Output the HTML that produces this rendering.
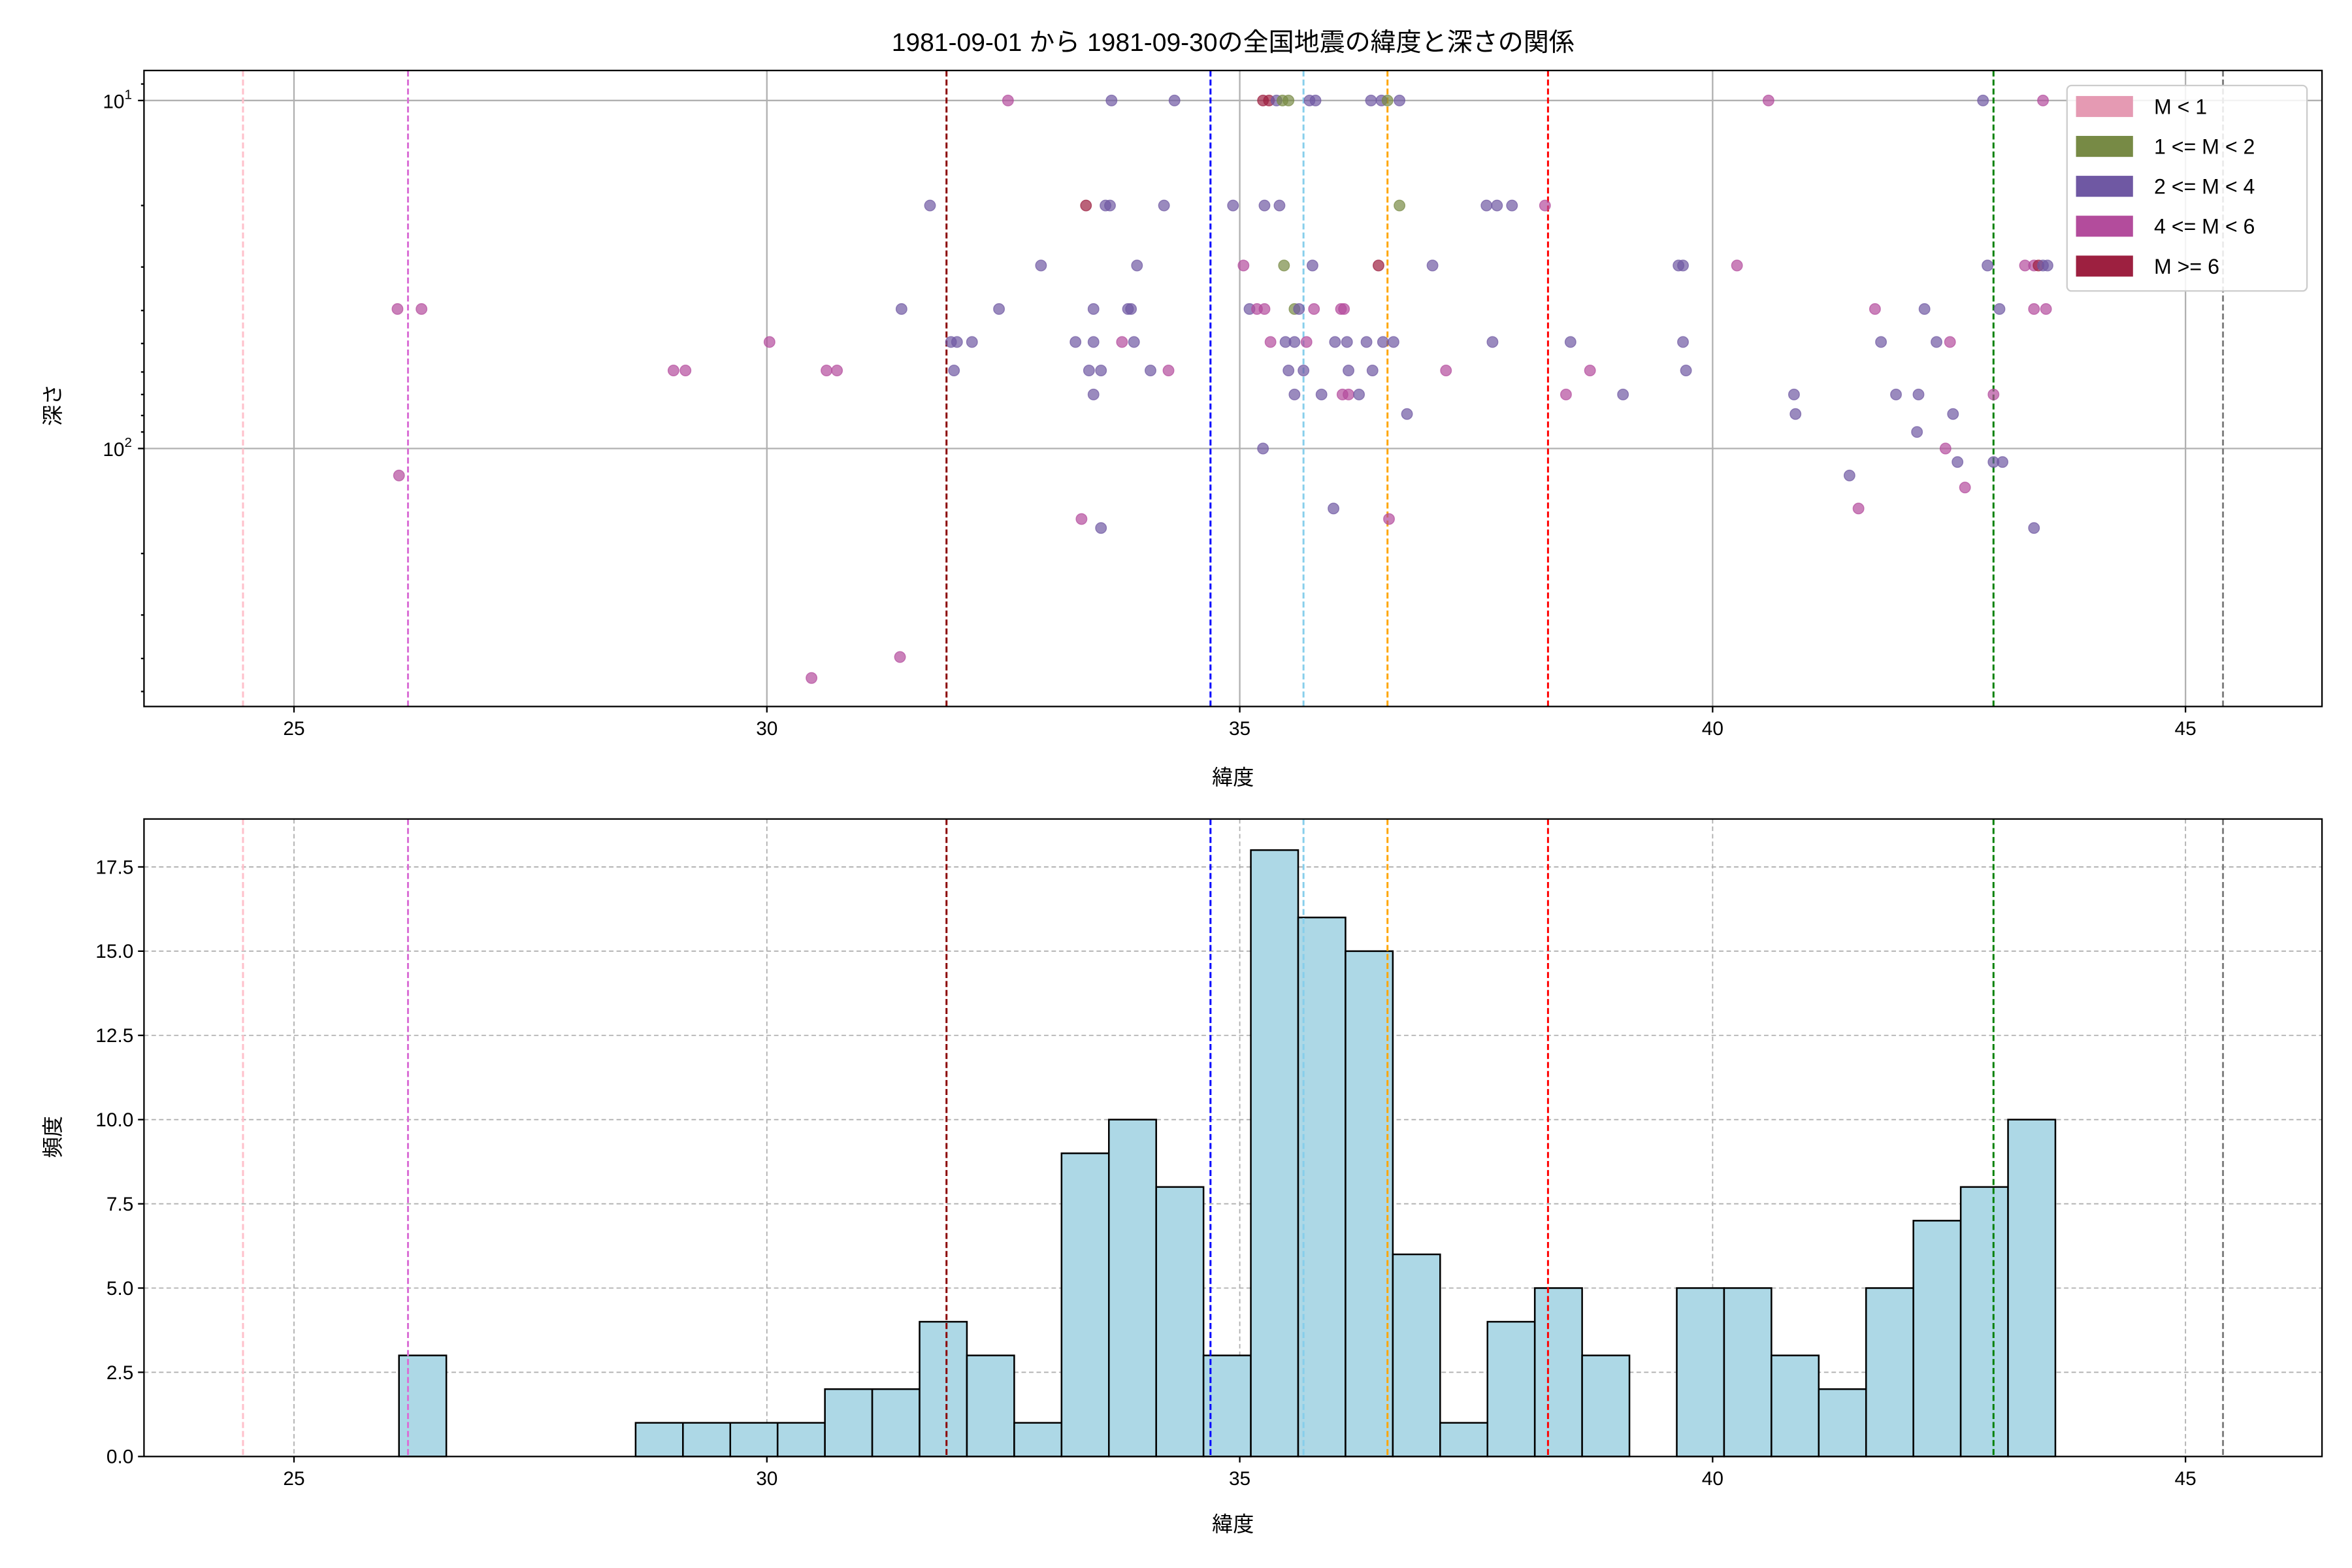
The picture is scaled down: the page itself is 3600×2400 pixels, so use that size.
<!DOCTYPE html>
<html><head><meta charset="utf-8"><style>
html,body{margin:0;padding:0;background:#fff}
svg{display:block}
text{font-family:"Liberation Sans","Noto Sans CJK JP",sans-serif;fill:#000}
</style></head><body>
<svg id="s" xmlns="http://www.w3.org/2000/svg" width="3600" height="2400" viewBox="0 0 1568 1045.33">
<rect width="1568" height="1046" fill="#fff"/>
<g id="g"></g>
</svg>
<script>
const NS="http://www.w3.org/2000/svg",G=document.getElementById('g');
function el(t,a,txt){const e=document.createElementNS(NS,t);for(const k in a)e.setAttribute(k,a[k]);if(txt!==undefined)e.textContent=txt;G.appendChild(e);return e;}
const X=v=>196+(v-25)*63.05;
const L=96,R=1548,T1=47,B1=471,T2=546,B2=971;
// top grid
for(let v=25;v<=45;v+=5){el('line',{x1:X(v),x2:X(v),y1:T1,y2:B1,stroke:'#b0b0b0','stroke-width':1});}
[67,299].forEach(y=>el('line',{x1:L,x2:R,y1:y,y2:y,stroke:'#b0b0b0','stroke-width':1}));
// bottom grid
for(let v=25;v<=45;v+=5){el('line',{x1:X(v),x2:X(v),y1:T2,y2:B2,stroke:'#b0b0b0','stroke-width':0.8,'stroke-dasharray':'3,2'});}
for(let k=1;k<=7;k++){const y=B2-k*2.5*22.46;el('line',{x1:L,x2:R,y1:y,y2:y,stroke:'#b0b0b0','stroke-width':0.8,'stroke-dasharray':'3,2'});}
// histogram
const edges0=266,w=31.55;
const hs={0:3,5:1,6:1,7:1,8:1,9:2,10:2,11:4,12:3,13:1,14:9,15:10,16:8,17:3,18:18,19:16,20:15,21:6,22:1,23:4,24:5,25:3,27:5,28:5,29:3,30:2,31:5,32:7,33:8,34:10};
for(const i in hs){const h=hs[i]*22.46;el('rect',{x:edges0+i*w,y:B2-h,width:w,height:h,fill:'#add8e6',stroke:'#000','stroke-width':1.1});}
// vlines
const vl=[[162,'#ffc0cb'],[272,'#da70d6'],[631,'#8b0000'],[807,'#0000ff'],[869,'#87ceeb'],[925,'#ffa500'],[1032,'#ff0000'],[1329,'#008000'],[1482,'#808080']];
vl.forEach(([x,c])=>{[[T1,B1],[T2,B2]].forEach(([a,b])=>el('line',{x1:x,x2:x,y1:a,y2:b,stroke:c,'stroke-width':1.3,'stroke-dasharray':'4,2'}));});
// scatter
const C={p:'#6f58a3',m:'#b34c9c',r:'#9d2040',g:'#778a45'};
const rows={67:"672m 741p 783p 842r 846r 851p 855g 859g 873p 877p 914p 921p 925g 933p 1179m 1322p 1362m",
137:"620p 724r 737p 740p 776p 822p 843p 853p 933g 991p 998p 1008p 1030m",
177:"694p 758p 829m 856g 875p 919r 955p 1119p 1122p 1158m 1325p 1350m 1356m 1359r 1362p 1365p",
206:"265m 281m 601p 666p 729p 752p 754p 833p 838m 843m 863g 866p 876m 894m 896m 1250m 1283p 1333p 1356m 1364m",
228:"513m 634p 638p 648p 717p 729p 748m 756p 847m 857p 863p 871m 890p 898p 911p 922p 929p 995p 1047p 1122p 1254p 1291p 1300m",
247:"449m 457m 551m 558m 636p 726p 734p 767p 779m 859p 869p 899p 915p 964m 1060m 1124p",
263:"729p 863p 881p 895m 899m 906p 1044m 1082p 1196p 1264p 1279p 1329m",
276:"938p 1197p 1302p",288:"1278p",299:"842p 1297m",308:"1305p 1329p 1335p",317:"266m 1233p",325:"1310m",339:"889p 1239m",346:"721m 926m",352:"734p 1356p",438:"600m",452:"541m"};
for(const y in rows){rows[y].split(' ').forEach(s=>{const x=parseFloat(s),c=C[s.slice(-1)];el('circle',{cx:x,cy:y,r:3.6,fill:c,'fill-opacity':0.7,stroke:c,'stroke-opacity':0.7,'stroke-width':0.6});});}
// axes frames
[[T1,B1],[T2,B2]].forEach(([a,b])=>el('rect',{x:L,y:a,width:R-L,height:b-a,fill:'none',stroke:'#000','stroke-width':1}));
// x ticks
[[B1,485],[B2,985]].forEach(([b,ty])=>{for(let v=25;v<=45;v+=5){el('line',{x1:X(v),x2:X(v),y1:b,y2:b+4,stroke:'#000'});el('text',{x:X(v),y:ty+5,'font-size':13,'text-anchor':'middle'},v);}});
// top y ticks
[67,299].forEach((y,i)=>{el('line',{x1:L-4,x2:L,y1:y,y2:y,stroke:'#000'});const t=el('text',{x:L-8,y:y+5,'font-size':13,'text-anchor':'end'});t.innerHTML='10<tspan dy="-6" font-size="9">'+(i+1)+'</tspan>';});
[56,137,178,207,229,248,263,277,288,369,410,439,461].forEach(y=>el('line',{x1:L-2,x2:L,y1:y,y2:y,stroke:'#000'}));
// bottom y ticks
for(let k=0;k<=7;k++){const y=B2-k*2.5*22.46;el('line',{x1:L-4,x2:L,y1:y,y2:y,stroke:'#000'});el('text',{x:L-7,y:y+4.5,'font-size':13,'text-anchor':'end'},(k*2.5).toFixed(1));}
// labels
el('text',{x:822,y:34,'font-size':17,'text-anchor':'middle'},'1981-09-01 から 1981-09-30の全国地震の緯度と深さの関係');
el('text',{x:822,y:523,'font-size':14,'text-anchor':'middle'},'緯度');
el('text',{x:822,y:1021,'font-size':14,'text-anchor':'middle'},'緯度');
el('text',{x:0,y:0,'font-size':14,'text-anchor':'middle',transform:'translate(40,270) rotate(-90)'},'深さ');
el('text',{x:0,y:0,'font-size':14,'text-anchor':'middle',transform:'translate(40,758) rotate(-90)'},'頻度');
// legend
el('rect',{x:1378,y:57,width:160,height:137,rx:3,fill:'#fff','fill-opacity':0.85,stroke:'#ccc'});
[['M < 1','#e59ab3'],['1 <= M < 2','#778a45'],['2 <= M < 4','#6f58a3'],['4 <= M < 6','#b34c9c'],['M >= 6','#9d2040']].forEach(([t,c],i)=>{const y=71+i*26.6;el('rect',{x:1384,y:y-7,width:38,height:14,fill:c});el('text',{x:1436,y:y+5,'font-size':14},t);});
</script>
</body></html>
